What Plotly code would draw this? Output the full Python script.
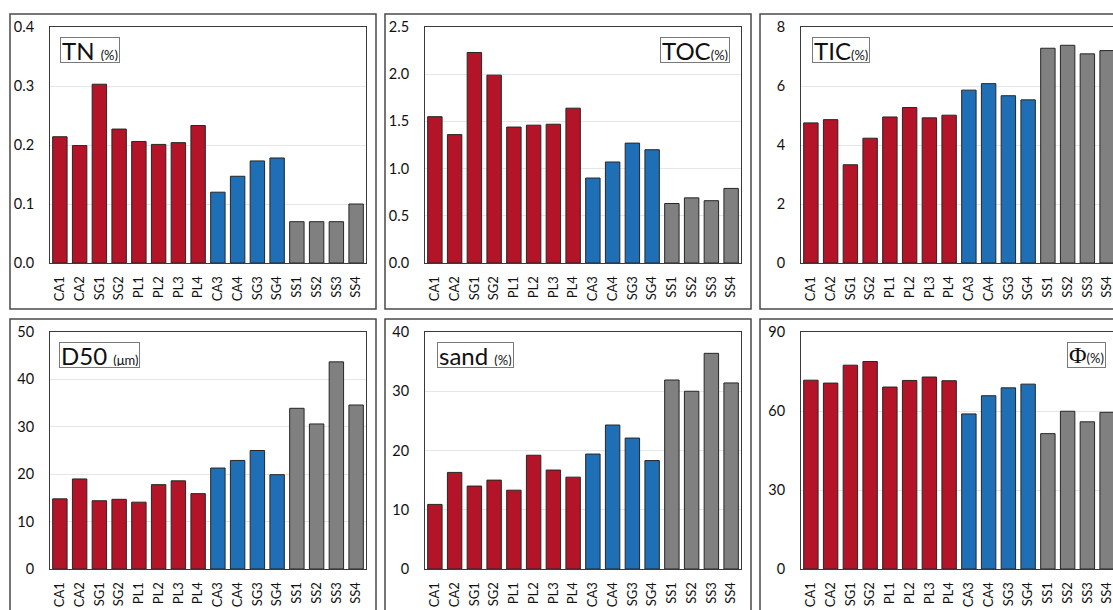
import plotly.graph_objects as go

W, H = 1113, 610

samples = ["CA1", "CA2", "SG1", "SG2", "PL1", "PL2", "PL3", "PL4",
           "CA3", "CA4", "SG3", "SG4", "SS1", "SS2", "SS3", "SS4"]
groups = ["red"] * 8 + ["blue"] * 4 + ["gray"] * 4
group_colors = {"red": "#b31427", "blue": "#1f6fb7", "gray": "#808080"}

tn = [0.214, 0.199, 0.303, 0.227, 0.206, 0.201, 0.204, 0.233,
      0.120, 0.147, 0.173, 0.178, 0.070, 0.070, 0.070, 0.100]
toc = [1.55, 1.36, 2.23, 1.99, 1.44, 1.46, 1.47, 1.64,
       0.90, 1.07, 1.27, 1.20, 0.63, 0.69, 0.66, 0.79]
tic = [4.75, 4.86, 3.33, 4.23, 4.95, 5.27, 4.92, 5.01,
       5.86, 6.08, 5.67, 5.53, 7.28, 7.38, 7.09, 7.20]
d50 = [14.8, 19.0, 14.4, 14.7, 14.1, 17.8, 18.6, 15.9,
       21.3, 22.9, 25.0, 19.9, 33.9, 30.6, 43.7, 34.6]
sand = [10.9, 16.3, 14.0, 15.0, 13.3, 19.2, 16.7, 15.5,
        19.4, 24.3, 22.1, 18.3, 31.9, 30.0, 36.4, 31.4]
phi = [71.7, 70.6, 77.4, 78.8, 69.1, 71.6, 72.9, 71.5,
       58.9, 65.8, 68.8, 70.2, 51.4, 59.9, 55.9, 59.5]

panel_titles = ["TN ", "TOC", "TIC", "D50 ", "sand ",
                "<span style='font-family:Liberation Serif'>Φ</span>"]
panel_units = ["(%)", "(%)", "(%)", "(μm)", "(%)", "(%)"]
panel_values = [tn, toc, tic, d50, sand, phi]
y_max = [0.4, 2.5, 8, 50, 40, 90]
y_step = [0.1, 0.5, 2, 10, 10, 30]
y_fmt = [".1f", ".1f", "d", "d", "d", "d"]
label_side = ["left", "right", "left", "left", "left", "right"]

# pixel layout (viewport pixels)
col_plot_x = [(50, 366), (425, 741), (801, 1117)]
row_plot_y = [(27, 263), (332, 569)]
col_box_x = [(10, 376), (385, 751), (760, 1140)]
row_box_y = [(14, 309), (319, 640)]
label_box = [(60, 37), (730, 37), (812, 37), (59, 342), (437, 342), (1106, 342)]

def px(x):
    return x / W

def py(y):
    return 1 - y / H

fig = go.Figure()
colors = [group_colors[g] for g in groups]
font_fam = "Lato, 'Open Sans', sans-serif"

for i in range(6):
    r, c = divmod(i, 3)
    ax = "" if i == 0 else str(i + 1)
    x0, x1 = col_plot_x[c]
    y0, y1 = row_plot_y[r]
    x1c = min(x1, W)
    n = len(samples)
    xr_hi = -0.5 + n * (x1c - x0) / (x1 - x0)
    fig.add_trace(go.Bar(
        x=samples, y=panel_values[i],
        marker=dict(color=colors, line=dict(color="#262626", width=1)),
        xaxis="x" + ax, yaxis="y" + ax, showlegend=False,
    ))
    fig.layout["xaxis" + ax] = dict(
        domain=[px(x0), px(x1c)], anchor="y" + ax,
        range=[-0.5, xr_hi], type="category",
        tickangle=-90, tickfont=dict(size=13, color="#111", family=font_fam),
        showline=True, mirror=True, linecolor="#3a3a3a", linewidth=1,
        showgrid=False, ticks="", ticklabelstandoff=7, automargin=False,
    )
    fig.layout["yaxis" + ax] = dict(
        domain=[py(y1), py(y0)], anchor="x" + ax,
        range=[0, y_max[i]], dtick=y_step[i], tick0=0, tickformat=y_fmt[i],
        tickfont=dict(size=14.5, color="#111", family=font_fam),
        showline=True, mirror=True, linecolor="#3a3a3a", linewidth=1,
        showgrid=True, gridcolor="#e6e6e6", gridwidth=1, zeroline=False,
        ticks="", ticklabelstandoff=12, automargin=False,
    )
    bx0, bx1 = col_box_x[c]
    by0, by1 = row_box_y[r]
    fig.add_shape(type="rect", xref="paper", yref="paper",
                  x0=px(bx0), x1=px(bx1), y0=py(by1), y1=py(by0),
                  line=dict(color="#4a4a4a", width=1.5), layer="below")
    lx, ly = label_box[i]
    fig.add_annotation(
        xref="paper", yref="paper", x=px(lx), y=py(ly),
        xanchor=label_side[i], yanchor="top", showarrow=False,
        text=f"{panel_titles[i]}<span style='font-size:13px'>{panel_units[i]}</span>",
        font=dict(size=24, color="#111", family=font_fam),
        bgcolor="white", bordercolor="#7a7a7a", borderwidth=1, borderpad=1,
        height=22,
    )

fig.update_layout(
    width=W, height=H, margin=dict(l=0, r=0, t=0, b=0),
    paper_bgcolor="white", plot_bgcolor="white", bargap=0.27,
)

fig.write_html(
    "out.html",
    config={"displayModeBar": False},
    post_script="document.body.style.margin='0';"
                "document.documentElement.style.overflow='hidden';",
)
